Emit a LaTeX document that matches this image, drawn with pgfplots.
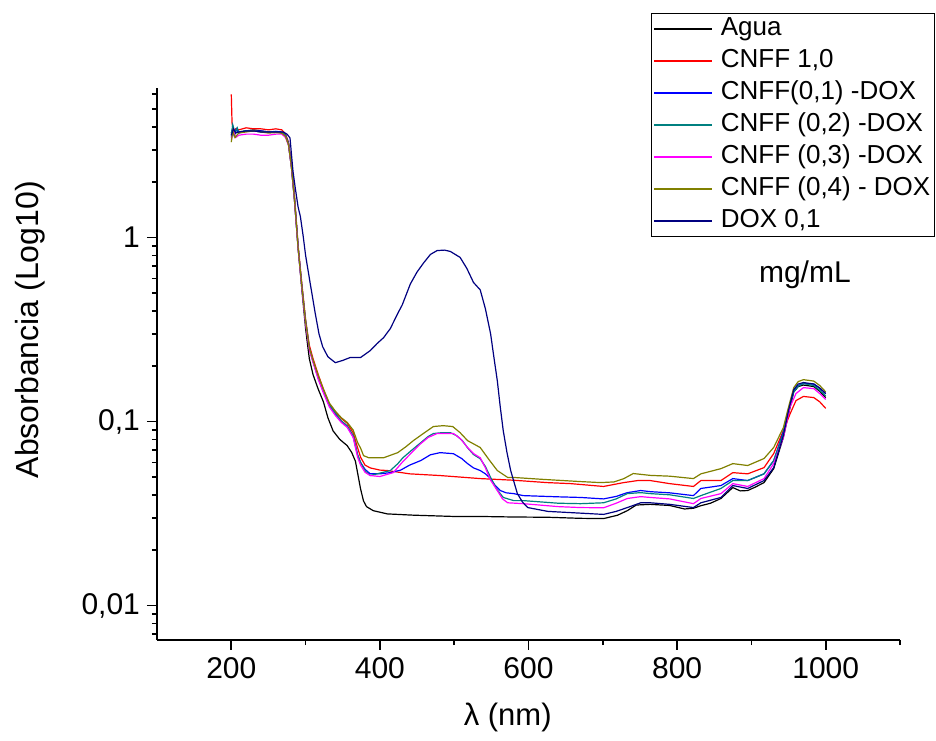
\documentclass[border=0pt]{standalone}
\usepackage{fontspec}
\setmainfont{Liberation Sans}
\usepackage{pgfplots}
\pgfplotsset{compat=1.18}

\definecolor{cteal}{RGB}{0,128,128}
\definecolor{colive}{RGB}{128,128,0}
\definecolor{cnavy}{RGB}{0,0,128}
\definecolor{cblue}{RGB}{0,0,255}
\definecolor{cmag}{RGB}{255,0,255}
\definecolor{cred}{RGB}{255,0,0}

\begin{document}
\begin{tikzpicture}
\useasboundingbox (-78.5pt,-50pt) rectangle (389.5pt,320pt);
\begin{axis}[
  at={(0,0)}, anchor=south west,
  width=371.5pt, height=276pt, scale only axis,
  xmin=100, xmax=1100,
  ymode=log, ymin=0.0065, ymax=6.5,
  axis lines*=left,
  axis line style={line width=1pt},
  xtick={200,400,...,1000},
  minor xtick={300,500,700,900,1100},
  ytick={0.01,0.1,1},
  yticklabels={{0,01},{0,1},{1}},
  minor ytick={0.007,0.008,0.009,0.02,0.03,0.04,0.05,0.06,0.07,0.08,0.09,
    0.2,0.3,0.4,0.5,0.6,0.7,0.8,0.9,2,3,4,5,6},
  tick align=outside,
  major tick length=5pt, minor tick length=2.5pt,
  every tick/.style={black, line width=0.9pt},
  /pgf/number format/assume math mode=true,
  /pgf/number format/1000 sep={},
  tick label style={font=\fontsize{15}{18}\selectfont},
  xlabel={λ (nm)},
  ylabel={Absorbancia (Log10)},
  xlabel style={font=\fontsize{15.5}{18}\selectfont, at={(axis description cs:0.472,-0.141)}, anchor=center},
  ylabel style={font=\fontsize{16}{19}\selectfont, at={(axis description cs:-0.171,0.562)}, anchor=center},
  legend cell align=left,
  legend style={at={(rel axis cs:1.047,1.136)}, anchor=north east,
    draw=black, line width=0.6pt, fill=white,
    font=\fontsize{13}{15}\selectfont,
    inner xsep=1pt, inner ysep=1pt, row sep=2.5pt, column sep=3pt,
    nodes={inner sep=1pt, text height=9pt, text depth=2.5pt}},
  legend image code/.code={\draw[line width=0.7pt,#1] (0pt,0pt) -- (29pt,0pt);},
  every axis plot/.append style={line width=0.6pt},
]

\addplot[black] coordinates {
(200,3.7)(202,3.9)(204,3.6)(206,3.85)(210,3.75)(220,3.8)(230,3.85)(240,3.8)(250,3.75)(260,3.75)(268,3.7)(273,3.55)(277,3.2)(281,2.4)(285,1.6)(290,0.88)(295,0.52)(300,0.32)(305,0.22)(310,0.18)(317,0.15)(324,0.128)(330,0.105)(337,0.089)(346,0.08)(356,0.074)(362,0.068)(367,0.061)(371,0.05)(374,0.043)(378,0.037)(382,0.0345)(391,0.0328)(410,0.0315)(445,0.031)(500,0.0305)(535,0.0305)(580,0.0303)(626,0.0302)(670,0.0298)(701,0.0297)(720,0.031)(733,0.0328)(745,0.0352)(764,0.0355)(790,0.035)(810,0.0335)(822,0.0338)(832,0.0349)(845,0.036)(859,0.0382)(870,0.042)(875,0.0438)(885,0.042)(895,0.0422)(905,0.044)(917,0.0466)(930,0.0555)(943,0.082)(950,0.11)(957,0.145)(963,0.155)(970,0.158)(984,0.155)(992,0.146)(1000,0.135)
};
\addlegendentry{Agua}

\addplot[cred] coordinates {
(200,6.0)(201,4.2)(203,3.7)(206,3.9)(210,3.85)(220,3.95)(230,3.9)(240,3.9)(250,3.85)(260,3.9)(268,3.85)(273,3.65)(277,3.3)(281,2.5)(285,1.7)(290,0.9)(295,0.56)(300,0.36)(305,0.26)(310,0.22)(317,0.18)(324,0.15)(332,0.125)(340,0.113)(348,0.104)(356,0.098)(364,0.087)(370,0.072)(374,0.064)(380,0.058)(387,0.056)(400,0.0545)(410,0.0542)(440,0.052)(481,0.0509)(535,0.049)(580,0.048)(625,0.0466)(657,0.046)(701,0.0444)(728,0.0466)(747,0.0478)(764,0.0478)(790,0.046)(822,0.0444)(832,0.0478)(859,0.0478)(875,0.0528)(895,0.052)(917,0.0562)(930,0.067)(943,0.0893)(952,0.11)(960,0.13)(970,0.137)(984,0.135)(992,0.128)(1000,0.118)
};
\addlegendentry{CNFF 1,0}

\addplot[cblue] coordinates {
(200,3.5)(202,4.0)(204,3.6)(207,3.9)(210,3.7)(220,3.8)(230,3.8)(240,3.8)(250,3.75)(260,3.78)(268,3.75)(273,3.6)(277,3.25)(281,2.45)(285,1.65)(290,0.88)(295,0.54)(300,0.35)(305,0.25)(310,0.212)(317,0.172)(324,0.145)(332,0.122)(340,0.11)(348,0.1)(356,0.094)(364,0.083)(370,0.066)(374,0.06)(380,0.055)(387,0.052)(400,0.052)(414,0.0528)(428,0.0545)(440,0.058)(455,0.0614)(468,0.066)(481,0.0678)(499,0.0669)(510,0.063)(518,0.0591)(526,0.056)(535,0.0542)(542,0.052)(549,0.049)(555,0.045)(562,0.0422)(570,0.041)(580,0.0406)(593,0.0396)(640,0.039)(670,0.0387)(701,0.038)(718,0.0392)(733,0.0411)(751,0.0422)(764,0.0416)(790,0.041)(822,0.0396)(832,0.0433)(859,0.0449)(875,0.049)(895,0.0478)(917,0.052)(930,0.0614)(943,0.088)(950,0.115)(957,0.147)(963,0.157)(970,0.161)(984,0.16)(992,0.152)(1000,0.142)
};
\addlegendentry{CNFF(0,1) -DOX}

\addplot[cteal] coordinates {
(200,3.6)(202,4.1)(205,3.7)(208,3.95)(210,3.75)(220,3.8)(230,3.8)(240,3.75)(250,3.75)(260,3.75)(268,3.72)(273,3.58)(277,3.22)(281,2.42)(285,1.62)(290,0.87)(295,0.54)(300,0.35)(305,0.25)(310,0.213)(317,0.174)(324,0.146)(332,0.123)(340,0.111)(348,0.101)(356,0.095)(364,0.084)(370,0.066)(374,0.06)(380,0.054)(387,0.0509)(396,0.052)(414,0.0542)(424,0.059)(431,0.0636)(443,0.07)(455,0.0768)(465,0.083)(472,0.0861)(483,0.087)(495,0.087)(503,0.084)(511,0.0788)(518,0.072)(526,0.0662)(535,0.0628)(542,0.057)(549,0.0497)(557,0.043)(562,0.0406)(566,0.0387)(580,0.0372)(593,0.0372)(640,0.036)(670,0.0358)(701,0.0362)(718,0.038)(733,0.0406)(751,0.0411)(764,0.0406)(790,0.040)(822,0.0382)(832,0.0396)(859,0.0433)(875,0.0478)(895,0.0478)(917,0.052)(930,0.0614)(943,0.0861)(950,0.115)(957,0.145)(963,0.156)(970,0.161)(984,0.157)(992,0.148)(1000,0.138)
};
\addlegendentry{CNFF (0,2) -DOX}

\addplot[cmag] coordinates {
(200,3.4)(203,3.8)(206,3.5)(210,3.6)(220,3.65)(230,3.65)(240,3.6)(250,3.6)(260,3.65)(268,3.65)(273,3.5)(277,3.18)(281,2.4)(285,1.6)(290,0.86)(295,0.53)(300,0.34)(305,0.245)(310,0.21)(317,0.17)(324,0.143)(332,0.12)(340,0.108)(348,0.099)(356,0.093)(364,0.082)(370,0.064)(374,0.058)(380,0.053)(387,0.0509)(400,0.0503)(418,0.0528)(430,0.06)(443,0.068)(455,0.0759)(465,0.082)(477,0.0861)(499,0.0861)(508,0.081)(518,0.0723)(526,0.067)(535,0.0636)(542,0.056)(549,0.048)(558,0.0422)(565,0.038)(572,0.0362)(593,0.0358)(640,0.0345)(670,0.0341)(701,0.034)(718,0.036)(733,0.0382)(751,0.0391)(764,0.0387)(790,0.038)(822,0.0358)(832,0.0382)(859,0.0406)(875,0.046)(895,0.0444)(917,0.049)(930,0.0591)(943,0.082)(952,0.12)(960,0.142)(970,0.153)(984,0.151)(992,0.142)(1000,0.132)
};
\addlegendentry{CNFF (0,3) -DOX}

\addplot[colive] coordinates {
(200,3.3)(202,3.8)(205,3.5)(210,3.7)(220,3.75)(230,3.8)(240,3.75)(250,3.7)(260,3.72)(268,3.7)(273,3.55)(277,3.2)(281,2.42)(285,1.63)(290,0.87)(295,0.54)(300,0.35)(305,0.252)(310,0.215)(317,0.178)(324,0.15)(332,0.126)(340,0.114)(348,0.105)(356,0.099)(364,0.09)(370,0.077)(374,0.0717)(378,0.0653)(385,0.0636)(391,0.0636)(405,0.0636)(424,0.0678)(435,0.073)(445,0.0788)(460,0.087)(472,0.094)(485,0.095)(498,0.094)(508,0.087)(518,0.0788)(535,0.0723)(547,0.062)(558,0.0542)(572,0.0497)(580,0.0497)(620,0.0485)(670,0.0472)(697,0.0466)(715,0.047)(728,0.0489)(741,0.0522)(764,0.051)(790,0.0505)(822,0.049)(832,0.052)(859,0.0555)(875,0.0591)(895,0.0577)(917,0.063)(930,0.0723)(943,0.0927)(950,0.12)(957,0.153)(963,0.165)(970,0.169)(984,0.166)(992,0.157)(1000,0.145)
};
\addlegendentry{CNFF (0,4) - DOX}

\addplot[cnavy] coordinates {
(200,3.6)(203,3.9)(206,3.7)(210,3.75)(220,3.8)(230,3.8)(240,3.75)(250,3.75)(260,3.75)(270,3.75)(275,3.65)(279,3.48)(283,2.3)(286,1.87)(290,1.46)(293,1.3)(297,1.0)(300,0.8)(306,0.57)(313,0.387)(318,0.3)(323,0.255)(330,0.225)(340,0.209)(350,0.215)(360,0.223)(374,0.223)(387,0.243)(396,0.265)(405,0.286)(414,0.32)(424,0.387)(430,0.43)(441,0.56)(450,0.65)(459,0.73)(468,0.81)(477,0.85)(487,0.855)(495,0.84)(508,0.78)(517,0.68)(526,0.57)(535,0.52)(542,0.41)(549,0.3)(553,0.23)(558,0.167)(562,0.12)(566,0.0893)(571,0.068)(576,0.0542)(585,0.0406)(592,0.0365)(599,0.0341)(626,0.0325)(670,0.0318)(701,0.0313)(718,0.0325)(733,0.0341)(751,0.0362)(764,0.0362)(790,0.0355)(822,0.0341)(832,0.0362)(859,0.0387)(875,0.0449)(895,0.0433)(917,0.0478)(930,0.0562)(943,0.084)(950,0.115)(957,0.149)(963,0.16)(970,0.163)(984,0.16)(992,0.152)(1000,0.142)
};
\addlegendentry{DOX 0,1}

\node[font=\fontsize{15}{18}\selectfont] at (rel axis cs:0.872,0.661) {mg/mL};
\end{axis}
\end{tikzpicture}
\end{document}
